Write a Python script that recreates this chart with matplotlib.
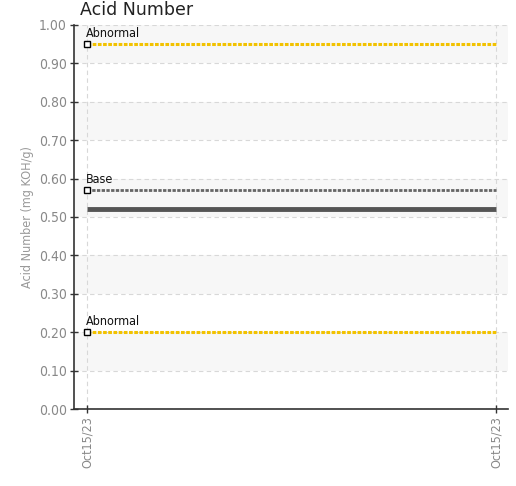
import matplotlib
matplotlib.use("agg")
import matplotlib.pyplot as plt

# chart values
dates = ["Oct15/23", "Oct15/23"]
acid_number = [0.52, 0.52]
upper_abnormal = [0.95, 0.95]
base = [0.57, 0.57]
lower_abnormal = [0.20, 0.20]
y_ticks = [0.0, 0.1, 0.2, 0.3, 0.4, 0.5, 0.6, 0.7, 0.8, 0.9, 1.0]

# condensed face, closest to the narrow font of the reference
plt.rcParams["font.family"] = ["DejaVu Sans"]
plt.rcParams["font.stretch"] = "condensed"

x = list(range(len(dates)))

fig = plt.figure(figsize=(5.16, 4.86), dpi=100)
ax = fig.add_axes([74 / 516, 1 - 409 / 486, 434 / 516, 384 / 486])

# alternating bands
for lo in y_ticks[1::2]:
    ax.axhspan(lo, lo + 0.1, color="#f7f7f7", zorder=0, lw=0)

ax.grid(True, color="#d8d8d8", linestyle=(0, (4, 3)), linewidth=0.8)
ax.set_axisbelow(True)

yellow = "#f2c200"
ax.plot(x, upper_abnormal, color=yellow, lw=2.2, linestyle=(0, (1.2, 0.5)), zorder=3)
ax.plot(x, lower_abnormal, color=yellow, lw=2.2, linestyle=(0, (1.2, 0.5)), zorder=3)
ax.plot(x, base, color="#666666", lw=2.0, linestyle=(0, (1.2, 0.5)), zorder=3)
ax.plot(x, acid_number, color="#555555", lw=3.5, solid_capstyle="butt", zorder=4)

for vals, label in [(upper_abnormal, "Abnormal"), (base, "Base"), (lower_abnormal, "Abnormal")]:
    ax.plot(x[0], vals[0], marker="s", ms=4.5, mfc="white", mec="black", mew=1.0, zorder=5)
    ax.annotate(label, (x[0], vals[0]), xytext=(-1, 3), textcoords="offset points",
                fontsize=9, color="#111111", ha="left", va="bottom", zorder=6)

ax.set_xlim(-13 / 409, 1 + 12 / 409)
ax.set_ylim(0, 1.0)
ax.set_yticks(y_ticks)
ax.set_yticklabels([f"{v:.2f}" for v in y_ticks])
ax.set_xticks(x)
ax.set_xticklabels(dates, rotation=90)

for side in ["top", "right"]:
    ax.spines[side].set_visible(False)
for side in ["left", "bottom"]:
    ax.spines[side].set_color("#333333")
    ax.spines[side].set_linewidth(1.2)

ax.tick_params(axis="both", direction="inout", length=6, width=1, color="#333333",
               labelcolor="#888888", pad=2)
ax.tick_params(axis="y", labelsize=10)
ax.tick_params(axis="x", labelsize=9)
ax.set_ylabel("Acid Number (mg KOH/g)", color="#999999", fontsize=9, labelpad=4)

fig.text(80 / 516, 1 - 15 / 486, "Acid Number", fontsize=12.5, color="#222222",
         ha="left", va="baseline", stretch="normal")

fig.savefig("out.png", dpi=100)
